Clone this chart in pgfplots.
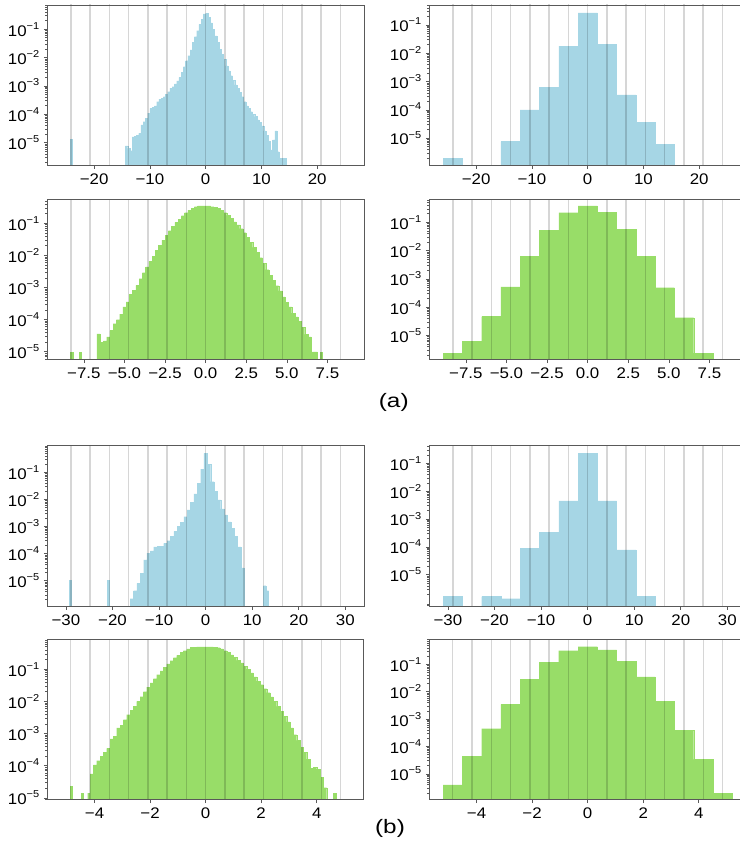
\documentclass[border=0pt]{standalone}
\usepackage{fontspec}
\usepackage{pgfplots}
\pgfplotsset{compat=1.18}
\newfontfamily\tickfamily{Liberation Sans}[FakeStretch=1.1]
\newfontfamily\capfamily{Liberation Sans}[FakeStretch=1.25]
\definecolor{hblue}{RGB}{166,214,229}
\definecolor{hgreen}{RGB}{152,221,104}
\newcommand\tickfont{\tickfamily\fontsize{11.5pt}{13pt}\selectfont}
\newcommand\sups[1]{\raisebox{0.45em}{\fontsize{7.5pt}{8pt}\selectfont #1}}
\begin{document}
\begin{tikzpicture}
\useasboundingbox (0pt,0pt) rectangle (554.25pt,-636pt);

% ---------- (a) top left ----------
\begin{axis}[at={(35.475pt,-3.75pt)}, anchor=north west,
  scale only axis, width=237.5pt, height=120.4pt,
  ymode=log, log origin=infty, axis on top,
  tick align=outside, tick pos=left,
  axis line style={draw=black!65, line width=0.7pt},
  tick style={draw=black!65, line width=0.5pt},
  major tick length=2.5pt, minor tick length=1.4pt,
  ytick={1e-5,1e-4,1e-3,1e-2,1e-1},
  yticklabels={10\sups{−5},10\sups{−4},10\sups{−3},10\sups{−2},10\sups{−1}},
  minor ytick={2e-7,3e-7,4e-7,5e-7,6e-7,7e-7,8e-7,9e-7,2e-6,3e-6,4e-6,5e-6,6e-6,7e-6,8e-6,9e-6,2e-5,3e-5,4e-5,5e-5,6e-5,7e-5,8e-5,9e-5,2e-4,3e-4,4e-4,5e-4,6e-4,7e-4,8e-4,9e-4,2e-3,3e-3,4e-3,5e-3,6e-3,7e-3,8e-3,9e-3,2e-2,3e-2,4e-2,5e-2,6e-2,7e-2,8e-2,9e-2,2e-1,3e-1,4e-1,5e-1,6e-1,7e-1,8e-1,9e-1},
  tick label style={font=\tickfont},
  xmin=-28.4, xmax=28.4, ymin=1.55e-6, ymax=0.72,
  xtick={-20,-10,0,10,20}, xticklabels={−20,−10,0,10,20}]
\addplot[ybar interval, fill=hblue, draw=hblue, line width=0.1pt] coordinates {(-24.3,1.3e-5) (-23.9,1.3e-5)};
\addplot[ybar interval, fill=hblue, draw=hblue, line width=0.1pt] coordinates {(-14.4,7.7e-6) (-14.0,6.3e-6) (-13.6,5.2e-6) (-13.2,1.6e-5) (-12.8,1.7e-5) (-12.4,1.85e-5) (-12.0,2.1e-5) (-11.6,4.2e-5) (-11.2,5.5e-5) (-10.8,7.2e-5) (-10.4,1.1e-4) (-10.0,1.6e-4) (-9.6,1.75e-4) (-9.2,1.96e-4) (-8.8,2.8e-4) (-8.4,3.4e-4) (-8.0,3.7e-4) (-7.6,4.2e-4) (-7.2,5.1e-4) (-6.8,6.3e-4) (-6.4,8.3e-4) (-6.0,9.5e-4) (-5.6,1.18e-3) (-5.2,1.5e-3) (-4.8,2.0e-3) (-4.4,3.0e-3) (-4.0,4.8e-3) (-3.6,7.8e-3) (-3.2,1.17e-2) (-2.8,1.87e-2) (-2.4,3.4e-2) (-2.0,5.5e-2) (-1.6,8.9e-2) (-1.2,0.15) (-0.8,0.23) (-0.4,0.35) (0.0,0.37) (0.4,0.26) (0.8,0.17) (1.2,0.10) (1.6,0.058) (2.0,0.034) (2.4,0.0196) (2.8,0.013) (3.2,8.7e-3) (3.6,5.1e-3) (4.0,3.4e-3) (4.4,2.3e-3) (4.8,1.6e-3) (5.2,1.1e-3) (5.6,8.3e-4) (6.0,6.0e-4) (6.4,4.2e-4) (6.8,2.8e-4) (7.2,1.96e-4) (7.6,1.6e-4) (8.0,1.23e-4) (8.4,1.0e-4) (8.8,8.3e-5) (9.2,6.3e-5) (9.6,5.1e-5) (10.0,3.9e-5) (10.4,2.6e-5) (10.8,1.85e-5) (11.2,1.1e-5) (11.6,5.5e-6) (12.0,1.26e-5) (12.4,2.6e-5) (12.8,4.8e-6) (13.2,2.8e-6) (13.6,2.8e-6) (14.0,2.8e-6) (14.4,2.8e-6)};
\addplot[draw=black, draw opacity=0.16, line width=1.1pt, mark=none, unbounded coords=jump, forget plot] coordinates {(-24.178,1e-9) (-24.178,10) (0,nan) (-20.724,1e-9) (-20.724,10) (0,nan) (-17.27,1e-9) (-17.27,10) (0,nan) (-13.816,1e-9) (-13.816,10) (0,nan) (-10.362,1e-9) (-10.362,10) (0,nan) (-6.908,1e-9) (-6.908,10) (0,nan) (-3.454,1e-9) (-3.454,10) (0,nan) (0,1e-9) (0,10) (0,nan) (3.454,1e-9) (3.454,10) (0,nan) (6.908,1e-9) (6.908,10) (0,nan) (10.362,1e-9) (10.362,10) (0,nan) (13.816,1e-9) (13.816,10) (0,nan) (17.27,1e-9) (17.27,10) (0,nan) (20.724,1e-9) (20.724,10) (0,nan) (24.178,1e-9) (24.178,10)};
\end{axis}

% ---------- (a) top right ----------
\begin{axis}[at={(321.975pt,-3.75pt)}, anchor=north west,
  scale only axis, width=237.5pt, height=120.4pt,
  ymode=log, log origin=infty, axis on top,
  tick align=outside, tick pos=left,
  axis line style={draw=black!65, line width=0.7pt},
  tick style={draw=black!65, line width=0.5pt},
  major tick length=2.5pt, minor tick length=1.4pt,
  ytick={1e-5,1e-4,1e-3,1e-2,1e-1},
  yticklabels={10\sups{−5},10\sups{−4},10\sups{−3},10\sups{−2},10\sups{−1}},
  minor ytick={2e-7,3e-7,4e-7,5e-7,6e-7,7e-7,8e-7,9e-7,2e-6,3e-6,4e-6,5e-6,6e-6,7e-6,8e-6,9e-6,2e-5,3e-5,4e-5,5e-5,6e-5,7e-5,8e-5,9e-5,2e-4,3e-4,4e-4,5e-4,6e-4,7e-4,8e-4,9e-4,2e-3,3e-3,4e-3,5e-3,6e-3,7e-3,8e-3,9e-3,2e-2,3e-2,4e-2,5e-2,6e-2,7e-2,8e-2,9e-2,2e-1,3e-1,4e-1,5e-1,6e-1,7e-1,8e-1,9e-1},
  tick label style={font=\tickfont},
  xmin=-28.4, xmax=28.4, ymin=1.08e-6, ymax=0.51,
  xtick={-20,-10,0,10,20}, xticklabels={−20,−10,0,10,20}]
\addplot[ybar interval, fill=hblue, draw=hblue, line width=0.1pt] coordinates {(-25.905,2.0e-6) (-22.451,2.0e-6)};
\addplot[ybar interval, fill=hblue, draw=hblue, line width=0.1pt] coordinates {(-15.543,7.6e-6) (-12.089,1.0e-4) (-8.635,6.3e-4) (-5.181,0.018) (-1.727,0.27) (1.727,0.021) (5.181,3.4e-4) (8.635,3.6e-5) (12.089,6.2e-6) (15.543,6.2e-6)};
\addplot[draw=black, draw opacity=0.16, line width=1.1pt, mark=none, unbounded coords=jump, forget plot] coordinates {(-24.178,1e-9) (-24.178,10) (0,nan) (-20.724,1e-9) (-20.724,10) (0,nan) (-17.27,1e-9) (-17.27,10) (0,nan) (-13.816,1e-9) (-13.816,10) (0,nan) (-10.362,1e-9) (-10.362,10) (0,nan) (-6.908,1e-9) (-6.908,10) (0,nan) (-3.454,1e-9) (-3.454,10) (0,nan) (0,1e-9) (0,10) (0,nan) (3.454,1e-9) (3.454,10) (0,nan) (6.908,1e-9) (6.908,10) (0,nan) (10.362,1e-9) (10.362,10) (0,nan) (13.816,1e-9) (13.816,10) (0,nan) (17.27,1e-9) (17.27,10) (0,nan) (20.724,1e-9) (20.724,10) (0,nan) (24.178,1e-9) (24.178,10)};
\end{axis}

% ---------- (a) bottom left ----------
\begin{axis}[at={(35.475pt,-149.5pt)}, anchor=north west,
  scale only axis, width=237.5pt, height=120.4pt,
  ymode=log, log origin=infty, axis on top,
  tick align=outside, tick pos=left,
  axis line style={draw=black!65, line width=0.7pt},
  tick style={draw=black!65, line width=0.5pt},
  major tick length=2.5pt, minor tick length=1.4pt,
  ytick={1e-5,1e-4,1e-3,1e-2,1e-1},
  yticklabels={10\sups{−5},10\sups{−4},10\sups{−3},10\sups{−2},10\sups{−1}},
  minor ytick={2e-7,3e-7,4e-7,5e-7,6e-7,7e-7,8e-7,9e-7,2e-6,3e-6,4e-6,5e-6,6e-6,7e-6,8e-6,9e-6,2e-5,3e-5,4e-5,5e-5,6e-5,7e-5,8e-5,9e-5,2e-4,3e-4,4e-4,5e-4,6e-4,7e-4,8e-4,9e-4,2e-3,3e-3,4e-3,5e-3,6e-3,7e-3,8e-3,9e-3,2e-2,3e-2,4e-2,5e-2,6e-2,7e-2,8e-2,9e-2,2e-1,3e-1,4e-1,5e-1,6e-1,7e-1,8e-1,9e-1},
  tick label style={font=\tickfont},
  xmin=-9.75, xmax=9.75, ymin=5.6e-6, ymax=0.56,
  xtick={-7.5,-5,-2.5,0,2.5,5,7.5}, xticklabels={−7.5,−5.0,−2.5,0.0,2.5,5.0,7.5}]
\addplot[ybar interval, fill=hgreen, draw=hgreen, line width=0.1pt] coordinates {(-8.32,1.0e-5) (-8.17,1.0e-5)};
\addplot[ybar interval, fill=hgreen, draw=hgreen, line width=0.1pt] coordinates {(-7.82,1.0e-5) (-7.67,1.0e-5)};
\addplot[ybar interval, fill=hgreen, draw=hgreen, line width=0.1pt] coordinates {(-6.7,3.6e-5) (-6.5,2.0e-5) (-6.3,2.2e-5) (-6.1,2.9e-5) (-5.9,4.6e-5) (-5.7,7.5e-5) (-5.5,1.0e-4) (-5.3,1.5e-4) (-5.1,2.5e-4) (-4.9,3.6e-4) (-4.7,6.2e-4) (-4.5,8.3e-4) (-4.3,1.18e-3) (-4.1,1.9e-3) (-3.9,2.9e-3) (-3.7,4.4e-3) (-3.5,6.6e-3) (-3.3,9.6e-3) (-3.1,0.0144) (-2.9,0.021) (-2.7,0.030) (-2.5,0.042) (-2.3,0.059) (-2.1,0.081) (-1.9,0.107) (-1.7,0.136) (-1.5,0.174) (-1.3,0.214) (-1.1,0.26) (-0.9,0.30) (-0.7,0.33) (-0.5,0.35) (-0.3,0.35) (-0.1,0.35) (0.1,0.35) (0.3,0.33) (0.5,0.32) (0.7,0.29) (0.9,0.26) (1.1,0.214) (1.3,0.178) (1.5,0.143) (1.7,0.112) (1.9,0.089) (2.1,0.068) (2.3,0.051) (2.5,0.037) (2.7,0.026) (2.9,0.018) (3.1,0.0125) (3.3,8.5e-3) (3.5,5.6e-3) (3.7,3.6e-3) (3.9,2.4e-3) (4.1,1.7e-3) (4.3,1.15e-3) (4.5,7.9e-4) (4.7,5.1e-4) (4.9,3.5e-4) (5.1,2.5e-4) (5.3,1.6e-4) (5.5,1.23e-4) (5.7,8.9e-5) (5.9,5.9e-5) (6.1,3.5e-5) (6.3,2.9e-5) (6.5,2.9e-5)};
\addplot[ybar interval, fill=hgreen, draw=hgreen, line width=0.1pt] coordinates {(6.58,1.0e-5) (6.73,1.0e-5) (6.88,1.0e-5)};
\addplot[ybar interval, fill=hgreen, draw=hgreen, line width=0.1pt] coordinates {(7.03,1.0e-5) (7.18,1.0e-5)};
\addplot[draw=black, draw opacity=0.16, line width=1.1pt, mark=none, unbounded coords=jump, forget plot] coordinates {(-8.302,1e-9) (-8.302,10) (0,nan) (-7.116,1e-9) (-7.116,10) (0,nan) (-5.93,1e-9) (-5.93,10) (0,nan) (-4.744,1e-9) (-4.744,10) (0,nan) (-3.558,1e-9) (-3.558,10) (0,nan) (-2.372,1e-9) (-2.372,10) (0,nan) (-1.186,1e-9) (-1.186,10) (0,nan) (0,1e-9) (0,10) (0,nan) (1.186,1e-9) (1.186,10) (0,nan) (2.372,1e-9) (2.372,10) (0,nan) (3.558,1e-9) (3.558,10) (0,nan) (4.744,1e-9) (4.744,10) (0,nan) (5.93,1e-9) (5.93,10) (0,nan) (7.116,1e-9) (7.116,10) (0,nan) (8.302,1e-9) (8.302,10)};
\end{axis}

% ---------- (a) bottom right ----------
\begin{axis}[at={(321.975pt,-149.5pt)}, anchor=north west,
  scale only axis, width=237.5pt, height=120.4pt,
  ymode=log, log origin=infty, axis on top,
  tick align=outside, tick pos=left,
  axis line style={draw=black!65, line width=0.7pt},
  tick style={draw=black!65, line width=0.5pt},
  major tick length=2.5pt, minor tick length=1.4pt,
  ytick={1e-5,1e-4,1e-3,1e-2,1e-1},
  yticklabels={10\sups{−5},10\sups{−4},10\sups{−3},10\sups{−2},10\sups{−1}},
  minor ytick={2e-7,3e-7,4e-7,5e-7,6e-7,7e-7,8e-7,9e-7,2e-6,3e-6,4e-6,5e-6,6e-6,7e-6,8e-6,9e-6,2e-5,3e-5,4e-5,5e-5,6e-5,7e-5,8e-5,9e-5,2e-4,3e-4,4e-4,5e-4,6e-4,7e-4,8e-4,9e-4,2e-3,3e-3,4e-3,5e-3,6e-3,7e-3,8e-3,9e-3,2e-2,3e-2,4e-2,5e-2,6e-2,7e-2,8e-2,9e-2,2e-1,3e-1,4e-1,5e-1,6e-1,7e-1,8e-1,9e-1},
  tick label style={font=\tickfont},
  xmin=-9.75, xmax=9.75, ymin=1.38e-6, ymax=0.65,
  xtick={-7.5,-5,-2.5,0,2.5,5,7.5}, xticklabels={−7.5,−5.0,−2.5,0.0,2.5,5.0,7.5}]
\addplot[ybar interval, fill=hgreen, draw=hgreen, line width=0.1pt] coordinates {(-8.895,2.4e-6) (-7.709,6.2e-6) (-6.523,4.7e-5) (-5.337,5.2e-4) (-4.151,6.4e-3) (-2.965,0.053) (-1.779,0.22) (-0.593,0.38) (0.593,0.23) (1.779,0.056) (2.965,6.4e-3) (4.151,4.9e-4) (5.337,4.3e-5) (6.523,2.4e-6) (7.709,2.4e-6)};
\addplot[draw=black, draw opacity=0.16, line width=1.1pt, mark=none, unbounded coords=jump, forget plot] coordinates {(-8.302,1e-9) (-8.302,10) (0,nan) (-7.116,1e-9) (-7.116,10) (0,nan) (-5.93,1e-9) (-5.93,10) (0,nan) (-4.744,1e-9) (-4.744,10) (0,nan) (-3.558,1e-9) (-3.558,10) (0,nan) (-2.372,1e-9) (-2.372,10) (0,nan) (-1.186,1e-9) (-1.186,10) (0,nan) (0,1e-9) (0,10) (0,nan) (1.186,1e-9) (1.186,10) (0,nan) (2.372,1e-9) (2.372,10) (0,nan) (3.558,1e-9) (3.558,10) (0,nan) (4.744,1e-9) (4.744,10) (0,nan) (5.93,1e-9) (5.93,10) (0,nan) (7.116,1e-9) (7.116,10) (0,nan) (8.302,1e-9) (8.302,10)};
\end{axis}

\node[font=\capfamily\fontsize{14.6pt}{16pt}\selectfont] at (295.3pt,-301.9pt) {(a)};

% ---------- (b) top left ----------
\begin{axis}[at={(35.475pt,-334.3pt)}, anchor=north west,
  scale only axis, width=237.5pt, height=120.4pt,
  ymode=log, log origin=infty, axis on top,
  tick align=outside, tick pos=left,
  axis line style={draw=black!65, line width=0.7pt},
  tick style={draw=black!65, line width=0.5pt},
  major tick length=2.5pt, minor tick length=1.4pt,
  ytick={1e-5,1e-4,1e-3,1e-2,1e-1},
  yticklabels={10\sups{−5},10\sups{−4},10\sups{−3},10\sups{−2},10\sups{−1}},
  minor ytick={2e-7,3e-7,4e-7,5e-7,6e-7,7e-7,8e-7,9e-7,2e-6,3e-6,4e-6,5e-6,6e-6,7e-6,8e-6,9e-6,2e-5,3e-5,4e-5,5e-5,6e-5,7e-5,8e-5,9e-5,2e-4,3e-4,4e-4,5e-4,6e-4,7e-4,8e-4,9e-4,2e-3,3e-3,4e-3,5e-3,6e-3,7e-3,8e-3,9e-3,2e-2,3e-2,4e-2,5e-2,6e-2,7e-2,8e-2,9e-2,2e-1,3e-1,4e-1,5e-1,6e-1,7e-1,8e-1,9e-1},
  tick label style={font=\tickfont},
  xmin=-34, xmax=34, ymin=1.15e-6, ymax=0.955,
  xtick={-30,-20,-10,0,10,20,30}, xticklabels={−30,−20,−10,0,10,20,30}]
\addplot[ybar interval, fill=hblue, draw=hblue, line width=0.1pt] coordinates {(-29.3,1.1e-5) (-28.9,1.1e-5)};
\addplot[ybar interval, fill=hblue, draw=hblue, line width=0.1pt] coordinates {(-21.1,1.1e-5) (-20.7,1.1e-5)};
\addplot[ybar interval, fill=hblue, draw=hblue, line width=0.1pt] coordinates {(-16.2,2.2e-6) (-15.48,4.3e-6) (-14.76,8.1e-6) (-14.04,1.9e-5) (-13.32,5.9e-5) (-12.6,1.04e-4) (-11.88,1.27e-4) (-11.16,1.8e-4) (-10.44,1.9e-4) (-9.72,1.9e-4) (-9.0,2.4e-4) (-8.28,3.0e-4) (-7.56,4.3e-4) (-6.84,6.6e-4) (-6.12,1.0e-3) (-5.4,1.44e-3) (-4.68,2.3e-3) (-3.96,4.1e-3) (-3.24,7.9e-3) (-2.52,0.016) (-1.8,0.039) (-1.08,0.13) (-0.36,0.5) (0.36,0.2) (1.08,0.045) (1.8,0.020) (2.52,9.6e-3) (3.24,4.5e-3) (3.96,2.7e-3) (4.68,1.5e-3) (5.4,8.7e-4) (6.12,4.3e-4) (6.84,1.8e-4) (7.56,3.0e-5) (8.28,3.0e-5)};
\addplot[ybar interval, fill=hblue, draw=hblue, line width=0.1pt] coordinates {(12.4,6.6e-6) (12.95,4.3e-6) (13.5,4.3e-6)};
\addplot[draw=black, draw opacity=0.16, line width=1.1pt, mark=none, unbounded coords=jump, forget plot] coordinates {(-28.952,1e-9) (-28.952,10) (0,nan) (-24.816,1e-9) (-24.816,10) (0,nan) (-20.68,1e-9) (-20.68,10) (0,nan) (-16.544,1e-9) (-16.544,10) (0,nan) (-12.408,1e-9) (-12.408,10) (0,nan) (-8.272,1e-9) (-8.272,10) (0,nan) (-4.136,1e-9) (-4.136,10) (0,nan) (0,1e-9) (0,10) (0,nan) (4.136,1e-9) (4.136,10) (0,nan) (8.272,1e-9) (8.272,10) (0,nan) (12.408,1e-9) (12.408,10) (0,nan) (16.544,1e-9) (16.544,10) (0,nan) (20.68,1e-9) (20.68,10) (0,nan) (24.816,1e-9) (24.816,10) (0,nan) (28.952,1e-9) (28.952,10)};
\end{axis}

% ---------- (b) top right ----------
\begin{axis}[at={(321.975pt,-334.3pt)}, anchor=north west,
  scale only axis, width=237.5pt, height=120.4pt,
  ymode=log, log origin=infty, axis on top,
  tick align=outside, tick pos=left,
  axis line style={draw=black!65, line width=0.7pt},
  tick style={draw=black!65, line width=0.5pt},
  major tick length=2.5pt, minor tick length=1.4pt,
  ytick={1e-5,1e-4,1e-3,1e-2,1e-1},
  yticklabels={10\sups{−5},10\sups{−4},10\sups{−3},10\sups{−2},10\sups{−1}},
  minor ytick={2e-7,3e-7,4e-7,5e-7,6e-7,7e-7,8e-7,9e-7,2e-6,3e-6,4e-6,5e-6,6e-6,7e-6,8e-6,9e-6,2e-5,3e-5,4e-5,5e-5,6e-5,7e-5,8e-5,9e-5,2e-4,3e-4,4e-4,5e-4,6e-4,7e-4,8e-4,9e-4,2e-3,3e-3,4e-3,5e-3,6e-3,7e-3,8e-3,9e-3,2e-2,3e-2,4e-2,5e-2,6e-2,7e-2,8e-2,9e-2,2e-1,3e-1,4e-1,5e-1,6e-1,7e-1,8e-1,9e-1},
  tick label style={font=\tickfont},
  xmin=-34, xmax=34, ymin=7.4e-7, ymax=0.43,
  xtick={-30,-20,-10,0,10,20,30}, xticklabels={−30,−20,−10,0,10,20,30}]
\addplot[ybar interval, fill=hblue, draw=hblue, line width=0.1pt] coordinates {(-31.02,1.66e-6) (-26.884,1.66e-6)};
\addplot[ybar interval, fill=hblue, draw=hblue, line width=0.1pt] coordinates {(-22.748,1.66e-6) (-18.612,1.38e-6) (-14.476,9.1e-5) (-10.34,3.4e-4) (-6.204,4.5e-3) (-2.068,0.23) (2.068,4.5e-3) (6.204,7.9e-5) (10.34,1.66e-6) (14.476,1.66e-6)};
\addplot[draw=black, draw opacity=0.16, line width=1.1pt, mark=none, unbounded coords=jump, forget plot] coordinates {(-28.952,1e-9) (-28.952,10) (0,nan) (-24.816,1e-9) (-24.816,10) (0,nan) (-20.68,1e-9) (-20.68,10) (0,nan) (-16.544,1e-9) (-16.544,10) (0,nan) (-12.408,1e-9) (-12.408,10) (0,nan) (-8.272,1e-9) (-8.272,10) (0,nan) (-4.136,1e-9) (-4.136,10) (0,nan) (0,1e-9) (0,10) (0,nan) (4.136,1e-9) (4.136,10) (0,nan) (8.272,1e-9) (8.272,10) (0,nan) (12.408,1e-9) (12.408,10) (0,nan) (16.544,1e-9) (16.544,10) (0,nan) (20.68,1e-9) (20.68,10) (0,nan) (24.816,1e-9) (24.816,10) (0,nan) (28.952,1e-9) (28.952,10)};
\end{axis}

% ---------- (b) bottom left ----------
\begin{axis}[at={(35.475pt,-479.5pt)}, anchor=north west,
  scale only axis, width=237.5pt, height=120.4pt,
  ymode=log, log origin=infty, axis on top,
  tick align=outside, tick pos=left,
  axis line style={draw=black!65, line width=0.7pt},
  tick style={draw=black!65, line width=0.5pt},
  major tick length=2.5pt, minor tick length=1.4pt,
  ytick={1e-5,1e-4,1e-3,1e-2,1e-1},
  yticklabels={10\sups{−5},10\sups{−4},10\sups{−3},10\sups{−2},10\sups{−1}},
  minor ytick={2e-7,3e-7,4e-7,5e-7,6e-7,7e-7,8e-7,9e-7,2e-6,3e-6,4e-6,5e-6,6e-6,7e-6,8e-6,9e-6,2e-5,3e-5,4e-5,5e-5,6e-5,7e-5,8e-5,9e-5,2e-4,3e-4,4e-4,5e-4,6e-4,7e-4,8e-4,9e-4,2e-3,3e-3,4e-3,5e-3,6e-3,7e-3,8e-3,9e-3,2e-2,3e-2,4e-2,5e-2,6e-2,7e-2,8e-2,9e-2,2e-1,3e-1,4e-1,5e-1,6e-1,7e-1,8e-1,9e-1},
  tick label style={font=\tickfont},
  xmin=-5.7, xmax=5.7, ymin=8.7e-6, ymax=0.85,
  xtick={-4,-2,0,2,4}, xticklabels={−4,−2,0,2,4}]
\addplot[ybar interval, fill=hgreen, draw=hgreen, line width=0.1pt] coordinates {(-4.88,2.4e-5) (-4.80,2.4e-5)};
\addplot[ybar interval, fill=hgreen, draw=hgreen, line width=0.1pt] coordinates {(-4.49,1.4e-5) (-4.40,1.4e-5)};
\addplot[ybar interval, fill=hgreen, draw=hgreen, line width=0.1pt] coordinates {(-4.25,1.4e-5) (-4.16,5.6e-5) (-4.04,1.07e-4) (-3.92,1.45e-4) (-3.80,1.95e-4) (-3.68,2.6e-4) (-3.56,3.5e-4) (-3.44,6.9e-4) (-3.32,8.3e-4) (-3.20,1.5e-3) (-3.08,1.8e-3) (-2.96,2.7e-3) (-2.84,3.9e-3) (-2.72,5.3e-3) (-2.60,7.2e-3) (-2.48,0.010) (-2.36,0.014) (-2.24,0.020) (-2.12,0.028) (-2.00,0.038) (-1.88,0.051) (-1.76,0.068) (-1.64,0.089) (-1.52,0.115) (-1.40,0.147) (-1.28,0.186) (-1.16,0.23) (-1.04,0.27) (-0.92,0.33) (-0.80,0.38) (-0.68,0.43) (-0.56,0.48) (-0.44,0.49) (-0.32,0.50) (-0.20,0.50) (-0.08,0.50) (0.04,0.50) (0.16,0.50) (0.28,0.49) (0.40,0.47) (0.52,0.43) (0.64,0.38) (0.76,0.33) (0.88,0.28) (1.00,0.235) (1.12,0.19) (1.24,0.158) (1.36,0.126) (1.48,0.10) (1.60,0.077) (1.72,0.058) (1.84,0.043) (1.96,0.033) (2.08,0.025) (2.20,0.0187) (2.32,0.0138) (2.44,0.010) (2.56,7.0e-3) (2.68,4.9e-3) (2.80,3.4e-3) (2.92,2.3e-3) (3.04,1.5e-3) (3.16,9.3e-4) (3.28,6.2e-4) (3.40,3.8e-4) (3.52,2.6e-4) (3.64,1.6e-4) (3.76,8.5e-5) (3.88,8.8e-5) (4.00,7.9e-5) (4.12,4.4e-5) (4.24,2.1e-5) (4.36,2.1e-5)};
\addplot[ybar interval, fill=hgreen, draw=hgreen, line width=0.1pt] coordinates {(4.60,1.4e-5) (4.70,1.4e-5)};
\addplot[draw=black, draw opacity=0.16, line width=1.1pt, mark=none, unbounded coords=jump, forget plot] coordinates {(-4.858,1e-9) (-4.858,10) (0,nan) (-4.164,1e-9) (-4.164,10) (0,nan) (-3.47,1e-9) (-3.47,10) (0,nan) (-2.776,1e-9) (-2.776,10) (0,nan) (-2.082,1e-9) (-2.082,10) (0,nan) (-1.388,1e-9) (-1.388,10) (0,nan) (-0.694,1e-9) (-0.694,10) (0,nan) (0,1e-9) (0,10) (0,nan) (0.694,1e-9) (0.694,10) (0,nan) (1.388,1e-9) (1.388,10) (0,nan) (2.082,1e-9) (2.082,10) (0,nan) (2.776,1e-9) (2.776,10) (0,nan) (3.47,1e-9) (3.47,10) (0,nan) (4.164,1e-9) (4.164,10) (0,nan) (4.858,1e-9) (4.858,10)};
\end{axis}

% ---------- (b) bottom right ----------
\begin{axis}[at={(321.975pt,-479.5pt)}, anchor=north west,
  scale only axis, width=237.5pt, height=120.4pt,
  ymode=log, log origin=infty, axis on top,
  tick align=outside, tick pos=left,
  axis line style={draw=black!65, line width=0.7pt},
  tick style={draw=black!65, line width=0.5pt},
  major tick length=2.5pt, minor tick length=1.4pt,
  ytick={1e-5,1e-4,1e-3,1e-2,1e-1},
  yticklabels={10\sups{−5},10\sups{−4},10\sups{−3},10\sups{−2},10\sups{−1}},
  minor ytick={2e-7,3e-7,4e-7,5e-7,6e-7,7e-7,8e-7,9e-7,2e-6,3e-6,4e-6,5e-6,6e-6,7e-6,8e-6,9e-6,2e-5,3e-5,4e-5,5e-5,6e-5,7e-5,8e-5,9e-5,2e-4,3e-4,4e-4,5e-4,6e-4,7e-4,8e-4,9e-4,2e-3,3e-3,4e-3,5e-3,6e-3,7e-3,8e-3,9e-3,2e-2,3e-2,4e-2,5e-2,6e-2,7e-2,8e-2,9e-2,2e-1,3e-1,4e-1,5e-1,6e-1,7e-1,8e-1,9e-1},
  tick label style={font=\tickfont},
  xmin=-5.7, xmax=5.7, ymin=1.12e-6, ymax=0.83,
  xtick={-4,-2,0,2,4}, xticklabels={−4,−2,0,2,4}]
\addplot[ybar interval, fill=hgreen, draw=hgreen, line width=0.1pt] coordinates {(-5.205,4.0e-6) (-4.511,4.4e-5) (-3.817,4.5e-4) (-3.123,3.5e-3) (-2.429,0.029) (-1.735,0.118) (-1.041,0.32) (-0.347,0.45) (0.347,0.34) (1.041,0.13) (1.735,0.035) (2.429,4.5e-3) (3.123,3.9e-4) (3.817,3.4e-5) (4.511,1.96e-6) (5.205,1.96e-6)};
\addplot[draw=black, draw opacity=0.16, line width=1.1pt, mark=none, unbounded coords=jump, forget plot] coordinates {(-4.858,1e-9) (-4.858,10) (0,nan) (-4.164,1e-9) (-4.164,10) (0,nan) (-3.47,1e-9) (-3.47,10) (0,nan) (-2.776,1e-9) (-2.776,10) (0,nan) (-2.082,1e-9) (-2.082,10) (0,nan) (-1.388,1e-9) (-1.388,10) (0,nan) (-0.694,1e-9) (-0.694,10) (0,nan) (0,1e-9) (0,10) (0,nan) (0.694,1e-9) (0.694,10) (0,nan) (1.388,1e-9) (1.388,10) (0,nan) (2.082,1e-9) (2.082,10) (0,nan) (2.776,1e-9) (2.776,10) (0,nan) (3.47,1e-9) (3.47,10) (0,nan) (4.164,1e-9) (4.164,10) (0,nan) (4.858,1e-9) (4.858,10)};
\end{axis}

\node[font=\capfamily\fontsize{14.6pt}{16pt}\selectfont] at (292.5pt,-621pt) {(b)};
\end{tikzpicture}
\end{document}
